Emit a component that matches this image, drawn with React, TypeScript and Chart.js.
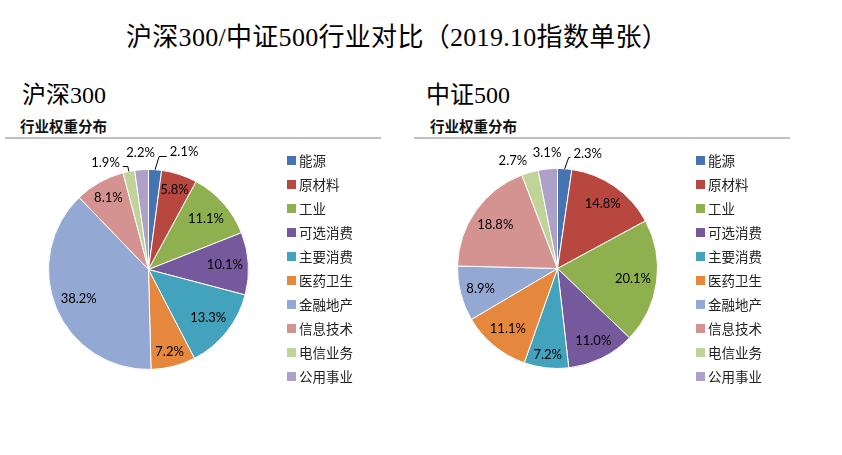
import React, { useEffect, useRef } from "react";
import { Chart, registerables } from "chart.js";

Chart.register(...registerables);

// ---------- data ----------
const categories = ["能源", "原材料", "工业", "可选消费", "主要消费", "医药卫生", "金融地产", "信息技术", "电信业务", "公用事业"];
const hs300Values = [2.1, 5.8, 11.1, 10.1, 13.3, 7.2, 38.2, 8.1, 1.9, 2.2];
const zz500Values = [2.3, 14.8, 20.1, 11.0, 7.2, 11.1, 8.9, 18.8, 2.7, 3.1];
const mainTitle = "沪深300/中证500行业对比（2019.10指数单张）";
const leftTitle = "沪深300";
const rightTitle = "中证500";
const subTitle = "行业权重分布";

// ---------- styles ----------
const sliceColors = ["#4674B3", "#B8483F", "#8FB04F", "#76599D", "#44A3BC", "#E5873C", "#93A8D3", "#D49290", "#C0D499", "#ADA0C9"];

type Outside = { dx: number; dy: number; leader?: "left" | "right" };

const pieLabelsPlugin = {
  id: "pieLabels",
  afterDatasetsDraw(chart: any, _args: any, opts: any) {
    const ctx = chart.ctx as CanvasRenderingContext2D;
    const meta = chart.getDatasetMeta(0);
    const values = chart.data.datasets[0].data as number[];
    ctx.save();
    ctx.font = opts.font;
    ctx.fillStyle = opts.color;
    ctx.strokeStyle = opts.lineColor;
    ctx.lineWidth = 1;
    ctx.textAlign = "center";
    ctx.textBaseline = "middle";
    meta.data.forEach((arc: any, i: number) => {
      const p = arc.getProps(["x", "y", "startAngle", "endAngle", "outerRadius"], true);
      const mid = (p.startAngle + p.endAngle) / 2;
      const text = values[i].toFixed(1) + "%";
      const w = ctx.measureText(text).width;
      const h = 14;
      const cos = Math.cos(mid);
      const sin = Math.sin(mid);
      const out: Outside | undefined = opts.outside[i];
      if (!out) {
        const ext = Math.abs(cos) * w / 2 + Math.abs(sin) * h / 2;
        const r = p.outerRadius - opts.inset - ext;
        ctx.fillText(text, p.x + cos * r, p.y + sin * r);
      } else {
        const ex = p.x + cos * p.outerRadius;
        const ey = p.y + sin * p.outerRadius;
        const lx = ex + out.dx;
        const ly = ey + out.dy;
        ctx.fillText(text, lx, ly);
        if (out.leader === "right") {
          const yy = Math.round(ly + 3.5) + 0.5;
          ctx.beginPath();
          ctx.moveTo(ex, ey);
          ctx.lineTo(ex + 4, yy);
          ctx.lineTo(lx - w / 2 - 3, yy);
          ctx.stroke();
        } else if (out.leader === "left") {
          const yy = Math.round(ly + 3) + 0.5;
          ctx.beginPath();
          ctx.moveTo(lx + w / 2 + 3, yy);
          ctx.lineTo(ex - 1, yy);
          ctx.lineTo(ex, ey);
          ctx.stroke();
        }
      }
    });
    ctx.restore();
  },
};

const sideLegendPlugin = {
  id: "sideLegend",
  afterDraw(chart: any, _args: any, opts: any) {
    const ctx = chart.ctx as CanvasRenderingContext2D;
    const ds = chart.data.datasets[0];
    ctx.save();
    ctx.font = opts.font;
    ctx.textAlign = "left";
    ctx.textBaseline = "middle";
    (chart.data.labels as string[]).forEach((label, i) => {
      const cy = opts.top + i * opts.spacing;
      ctx.fillStyle = ds.backgroundColor[i];
      ctx.fillRect(opts.left, Math.round(cy - opts.box / 2), opts.box, opts.box);
      ctx.fillStyle = opts.color;
      ctx.fillText(label, opts.left + opts.box + opts.gap, cy + 0.5);
    });
    ctx.restore();
  },
};

function PieCanvas(props: {
  values: number[];
  left: number;
  top: number;
  width: number;
  height: number;
  padding: { left: number; top: number; right: number; bottom: number };
  legendLeft: number;
  legendTop: number;
  outside: Record<number, Outside>;
}) {
  const ref = useRef<HTMLCanvasElement | null>(null);
  useEffect(() => {
    if (!ref.current) return;
    const chart = new Chart(ref.current, {
      type: "pie",
      data: {
        labels: categories,
        datasets: [
          {
            data: props.values,
            backgroundColor: sliceColors,
            borderColor: "#ffffff",
            borderWidth: 1,
            radius: 100,
          } as any,
        ],
      },
      options: {
        animation: false,
        responsive: false,
        maintainAspectRatio: false,
        layout: { padding: props.padding },
        events: [],
        plugins: {
          legend: { display: false },
          tooltip: { enabled: false },
          title: { display: false },
          pieLabels: {
            font: '13px Lato, "Noto Sans", sans-serif',
            color: "#000000",
            lineColor: "#000000",
            inset: 5,
            outside: props.outside,
          },
          sideLegend: {
            left: props.legendLeft,
            top: props.legendTop,
            spacing: 24,
            box: 9,
            gap: 3,
            font: '13.5px "Noto Sans CJK SC", sans-serif',
            color: "#222222",
          },
        } as any,
      },
      plugins: [pieLabelsPlugin, sideLegendPlugin],
    });
    return () => chart.destroy();
  }, []);
  return (
    <canvas
      ref={ref}
      width={props.width}
      height={props.height}
      style={{ position: "absolute", left: props.left, top: props.top, width: props.width, height: props.height }}
    />
  );
}

const serifCjk = '"Liberation Serif", "Noto Sans CJK SC", serif';
const sansCjk = '"Noto Sans CJK SC", sans-serif';

export default function App() {
  return (
    <div style={{ position: "absolute", left: 0, top: 0, width: 842, height: 455, background: "#ffffff", overflow: "hidden" }}>
      <div style={{ position: "absolute", left: 126, top: 25, fontFamily: serifCjk, fontSize: 26, lineHeight: "26px", whiteSpace: "nowrap", color: "#000", letterSpacing: 0.3 }}>
        {mainTitle}
      </div>
      <div style={{ position: "absolute", left: 22, top: 83, fontFamily: serifCjk, fontSize: 24, lineHeight: "24px", whiteSpace: "nowrap", color: "#000" }}>
        {leftTitle}
      </div>
      <div style={{ position: "absolute", left: 20, top: 118, fontFamily: sansCjk, fontWeight: 700, fontSize: 14.5, lineHeight: "16px", whiteSpace: "nowrap", color: "#111" }}>
        {subTitle}
      </div>
      <div style={{ position: "absolute", left: 5, top: 137, width: 376, height: 2, background: "#bfbfbf" }} />
      <div style={{ position: "absolute", left: 426, top: 83, fontFamily: serifCjk, fontSize: 24, lineHeight: "24px", whiteSpace: "nowrap", color: "#000" }}>
        {rightTitle}
      </div>
      <div style={{ position: "absolute", left: 430, top: 118, fontFamily: sansCjk, fontWeight: 700, fontSize: 14.5, lineHeight: "16px", whiteSpace: "nowrap", color: "#111" }}>
        {subTitle}
      </div>
      <div style={{ position: "absolute", left: 414, top: 137, width: 376, height: 2, background: "#bfbfbf" }} />

      <PieCanvas
        values={hs300Values}
        left={0}
        top={140}
        width={410}
        height={250}
        padding={{ left: 48.5, top: 29.5, right: 161.5, bottom: 20.5 }}
        legendLeft={287}
        legendTop={20.7}
        outside={{
          0: { dx: 29, dy: -17.7, leader: "right" },
          8: { dx: -23.3, dy: -8.4, leader: "left" },
          9: { dx: -1, dy: -16.7 },
        }}
      />
      <PieCanvas
        values={zz500Values}
        left={410}
        top={140}
        width={432}
        height={250}
        padding={{ left: 47.5, top: 28.5, right: 184.5, bottom: 21.5 }}
        legendLeft={286}
        legendTop={20}
        outside={{
          0: { dx: 23, dy: -14.8, leader: "right" },
          8: { dx: -17, dy: -11.7 },
          9: { dx: -0.75, dy: -16 },
        }}
      />
    </div>
  );
}
